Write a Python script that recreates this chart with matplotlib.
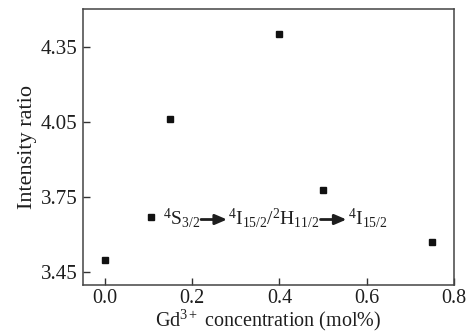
import matplotlib
matplotlib.use("Agg")
import matplotlib.pyplot as plt
from matplotlib.transforms import offset_copy

conc = [0.0, 0.105, 0.15, 0.40, 0.50, 0.75]
ratio = [3.50, 3.67, 4.06, 4.40, 3.78, 3.57]
xticks = [0.0, 0.2, 0.4, 0.6, 0.8]
yticks = [3.45, 3.75, 4.05, 4.35]
label_parts = [r'$^{4}$S$_{3/2}$', r'$^{4}$I$_{15/2}$/$^{2}$H$_{11/2}$', r'$^{4}$I$_{15/2}$']

plt.rcParams['font.family'] = ['Liberation Serif']
plt.rcParams['mathtext.fontset'] = 'custom'
plt.rcParams['mathtext.rm'] = 'Liberation Serif'
plt.rcParams['mathtext.it'] = 'Liberation Serif:italic'

TXT = '#1e1e1e'
fig = plt.figure(figsize=(4.74, 3.33), dpi=100)
ax = fig.add_axes([83/474, 1-285/333, (454-83)/474, (285-9)/333])
ax.plot(conc, ratio, 's', color='#111111', markersize=4.2, linestyle='none')
ax.set_xlim(-0.05, 0.8)
ax.set_ylim(3.40, 4.50)
ax.set_xticks(xticks)
ax.set_xticklabels([f"{v:.1f}" for v in xticks])
ax.set_yticks(yticks)
ax.set_yticklabels([f"{v:.2f}" for v in yticks])
ax.tick_params(direction='in', length=5, width=1, labelsize=15, colors='#333333', labelcolor=TXT)
ax.tick_params(axis='x', labelsize=14.5, pad=3)
ax.tick_params(axis='y', pad=4)
for s in ax.spines.values():
    s.set_color('#444444')
    s.set_linewidth(1.1)
ax.set_xlabel('Gd$^{3+}$ concentration (mol%)', fontsize=14.5, color=TXT, labelpad=0)
ax.set_ylabel('Intensity ratio', fontsize=16, color=TXT, labelpad=3)

fig.canvas.draw()
renderer = fig.canvas.get_renderer()
x0, y0 = 0.133, 3.665
dx = 0.0
arrow_len = 26
for i, part in enumerate(label_parts):
    tr = offset_copy(ax.transData, fig=fig, x=dx, y=0, units='dots')
    t = ax.text(x0, y0, part, fontsize=14, color=TXT, va='center', ha='left', transform=tr)
    bb = t.get_window_extent(renderer)
    dx += bb.width + 1
    if i < len(label_parts) - 1:
        base = ax.transData.transform((x0, y0))
        start = (base[0] + dx, base[1] - 1)
        end = (base[0] + dx + arrow_len, base[1] - 1)
        inv = ax.transData.inverted()
        ax.annotate('', xy=inv.transform(end), xytext=inv.transform(start),
                    arrowprops=dict(arrowstyle='-|>,head_length=0.7,head_width=0.3', lw=2.0,
                                    color=TXT, shrinkA=0, shrinkB=0))
        dx += arrow_len + 1
fig.savefig('out.png', dpi=100)
